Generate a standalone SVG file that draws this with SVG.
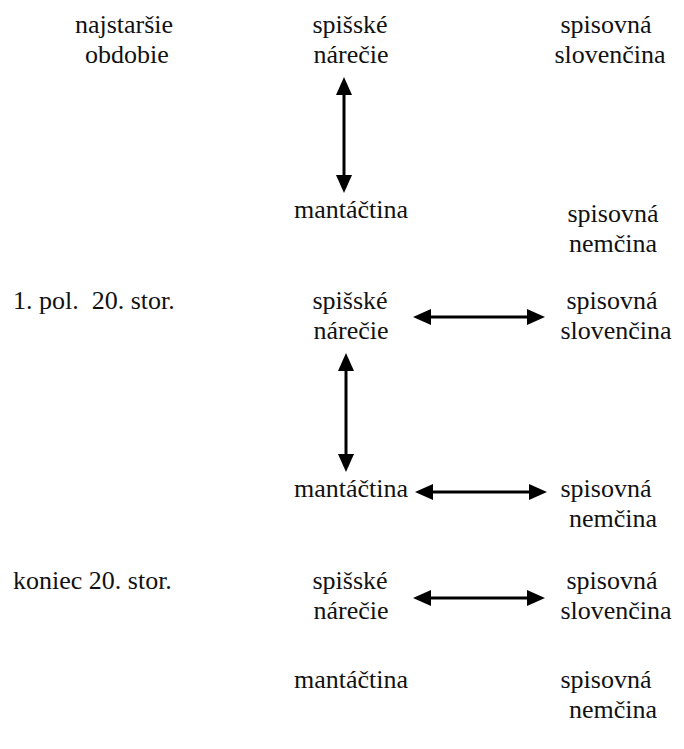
<svg xmlns="http://www.w3.org/2000/svg" width="684" height="749" viewBox="0 0 684 749">
<defs>
<marker id="ah" viewBox="0 0 18 16" refX="13" refY="8" markerWidth="18" markerHeight="16" markerUnits="userSpaceOnUse" orient="auto-start-reverse">
<path d="M0,0 L18,8 L0,16 z" fill="#000"/>
</marker>
</defs>
<rect width="684" height="749" fill="#fff"/>
<g font-family="Liberation Serif" font-size="26" fill="#111" text-anchor="middle">
<g id="najstarsie"><text x="124" y="33">najstaršie</text><text x="127" y="63">obdobie</text></g>
<g id="spisske1"><text x="350" y="33">spišské</text><text x="351" y="63">nárečie</text></g>
<g id="slovencina1"><text x="606" y="33">spisovná</text><text x="610" y="63">slovenčina</text></g>
<g id="mantactina1"><text x="351" y="218">mantáčtina</text></g>
<g id="nemcina1"><text x="613" y="222">spisovná</text><text x="613" y="252">nemčina</text></g>
<g id="pol20"><text text-anchor="start" x="13" y="309" xml:space="preserve">1. pol.  20. stor.</text></g>
<g id="spisske2"><text x="350" y="309">spišské</text><text x="351" y="339">nárečie</text></g>
<g id="slovencina2"><text x="612" y="309">spisovná</text><text x="616" y="339">slovenčina</text></g>
<g id="mantactina2"><text x="351" y="497">mantáčtina</text></g>
<g id="nemcina2"><text x="606" y="497">spisovná</text><text x="613" y="527">nemčina</text></g>
<g id="koniec20"><text text-anchor="start" x="13" y="589">koniec 20. stor.</text></g>
<g id="spisske3"><text x="350" y="589">spišské</text><text x="351" y="619">nárečie</text></g>
<g id="slovencina3"><text x="612" y="589">spisovná</text><text x="616" y="619">slovenčina</text></g>
<g id="mantactina3"><text x="351" y="688">mantáčtina</text></g>
<g id="nemcina3"><text x="606" y="688">spisovná</text><text x="613" y="718">nemčina</text></g>
</g>
<g id="connectors" stroke="#000" stroke-width="3" fill="none" marker-start="url(#ah)" marker-end="url(#ah)">
<line x1="344" y1="82" x2="344" y2="188"/>
<line x1="346" y1="358" x2="346" y2="467"/>
<line x1="418" y1="317" x2="540" y2="317"/>
<line x1="420" y1="492" x2="542" y2="492"/>
<line x1="418" y1="598" x2="540" y2="598"/>
</g>
</svg>
